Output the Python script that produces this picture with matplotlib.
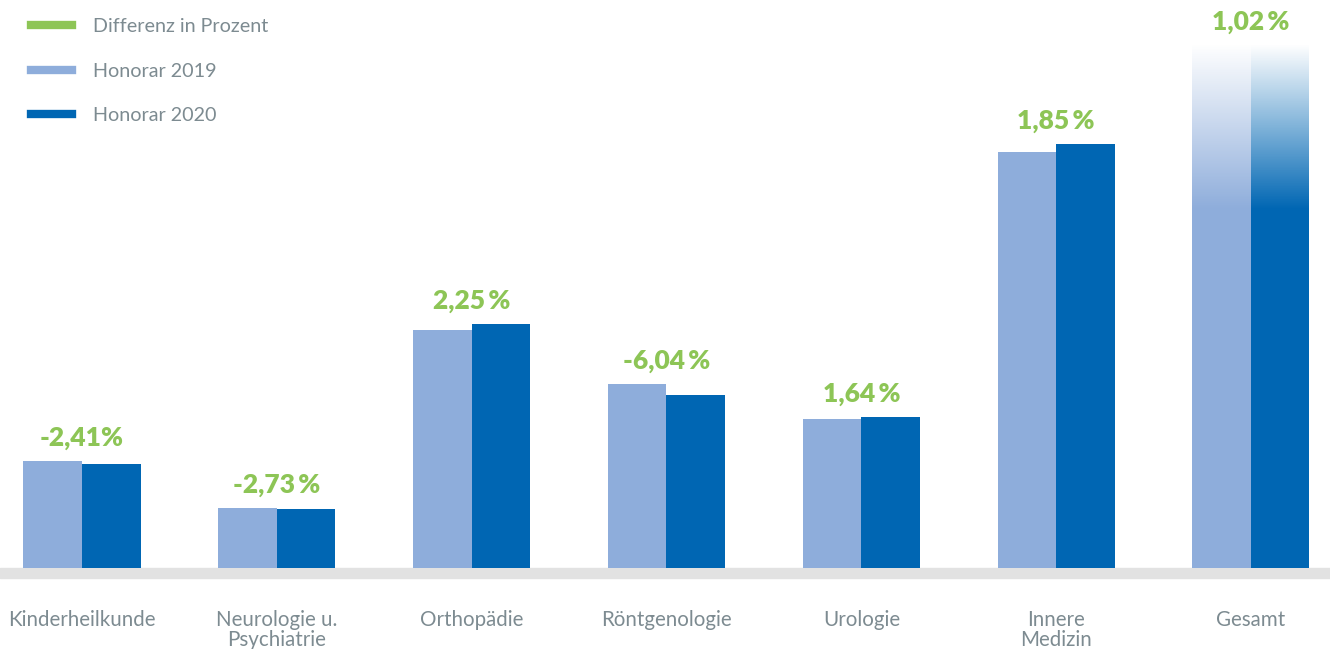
import numpy as np
import matplotlib
matplotlib.use("Agg")
import matplotlib.pyplot as plt
from matplotlib.lines import Line2D

plt.rcParams['font.family'] = ['Lato', 'DejaVu Sans']

categories = ["Kinderheilkunde", "Neurologie u.\nPsychiatrie", "Orthopädie",
              "Röntgenologie", "Urologie", "Innere\nMedizin", "Gesamt"]
honorar_2019 = [107, 60, 238, 184, 149, 416, 523]
honorar_2020 = [104, 59, 244, 173, 151, 424, 523]
diff_labels = ["-2,41%", "-2,73\u2009%", "2,25\u2009%", "-6,04\u2009%",
               "1,64\u2009%", "1,85\u2009%", "1,02\u2009%"]
legend_labels = ["Differenz in Prozent", "Honorar 2019", "Honorar 2020"]

c_light = "#8eaddb"
c_dark = "#0066b3"
c_green = "#8dc556"
c_text = "#7d8b91"
c_base = "#e2e2e2"

fig = plt.figure(figsize=(13.30, 6.49), dpi=100)
ax = fig.add_axes([0, 0, 1, 1])
spacing = 194.83
ax.set_xlim(-82 / spacing, (1330 - 82) / spacing)
ax.set_ylim(-81, 568)
ax.axis('off')

x = np.arange(len(categories))
w = 58.5 / spacing
b1 = ax.bar(x - w / 2, honorar_2019, width=w, color=c_light, zorder=2)
b2 = ax.bar(x + w / 2, honorar_2020, width=w, color=c_dark, zorder=2)

# base band
ax.axhspan(-10, 0, color=c_base, zorder=1)

# fade on the last group (Gesamt)
grad = np.ones((256, 1, 4))
fade_lo, fade_hi = 358, 523
grad[:, 0, 3] = np.linspace(0, 1, 256)
for bars in (b1, b2):
    p = bars[-1]
    x0 = p.get_x()
    x1 = x0 + p.get_width()
    ax.imshow(grad, extent=[x0, x1, fade_lo, fade_hi], origin='lower',
              aspect='auto', zorder=3, interpolation='bilinear')

# percent labels
for i, lab in enumerate(diff_labels):
    top = max(honorar_2019[i], honorar_2020[i])
    ax.text(x[i], top + 23, lab, ha='center', va='center', color=c_green,
            fontsize=19, fontweight='heavy')

# category labels
for i, cat in enumerate(categories):
    ax.text(x[i], -42, cat, ha='center', va='top', color=c_text,
            fontsize=14.8, fontweight='normal', linespacing=1.0)

handles = [Line2D([], [], color=c, lw=6) for c in (c_green, c_light, c_dark)]
leg = ax.legend(handles, legend_labels, loc='upper left',
                bbox_to_anchor=(0.012, 0.995), frameon=False, fontsize=14.2,
                handlelength=2.1, handletextpad=1.05, labelspacing=1.4,
                borderaxespad=0.35)
for t in leg.get_texts():
    t.set_color(c_text)

fig.savefig("out.png", dpi=100)
